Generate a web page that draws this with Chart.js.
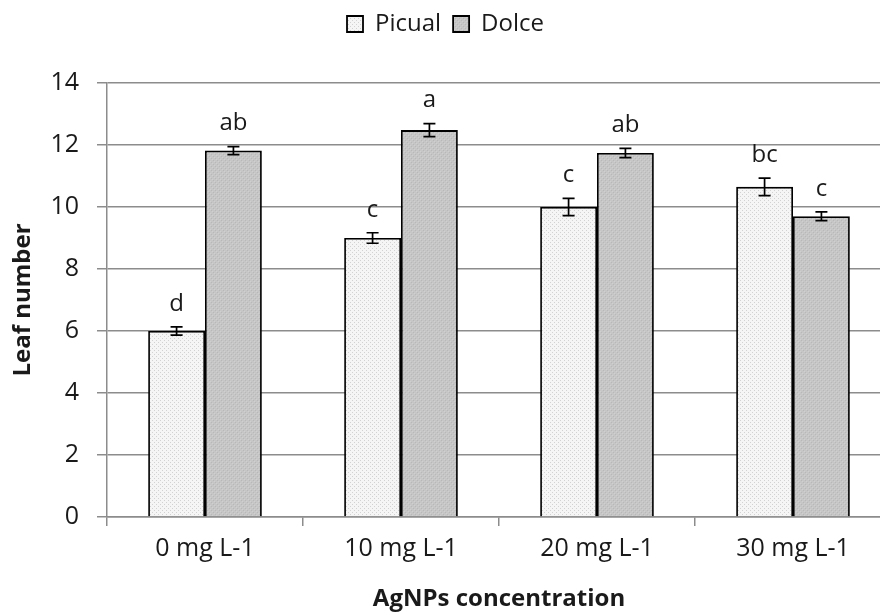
<!DOCTYPE html>
<html>
<head>
<meta charset="utf-8">
<script src="https://cdn.jsdelivr.net/npm/chart.js@4/dist/chart.umd.min.js"></script>
<style>
  html, body { margin: 0; padding: 0; background: #fff; overflow: hidden; }
  #wrap { width: 900px; height: 615px; }
</style>
</head>
<body>
<div id="wrap"><canvas id="barchart" width="900" height="615"></canvas></div>
<script>
const categories = ['0 mg L-1', '10 mg L-1', '20 mg L-1', '30 mg L-1']
const picual = [6.0, 9.0, 10.0, 10.65]
const dolce = [11.82, 12.48, 11.74, 9.7]
const picualErr = [0.13, 0.17, 0.28, 0.28]
const dolceErr = [0.13, 0.21, 0.15, 0.14]
const picualLetters = ['d', 'c', 'c', 'bc']
const dolceLetters = ['ab', 'a', 'ab', 'c']
const yTicks = [0, 2, 4, 6, 8, 10, 12, 14]

const FONT = '"Open Sans", "DejaVu Sans", sans-serif'

// small fill textures like the office chart
const tmp = document.createElement('canvas').getContext('2d')
const picualFill = (function(){
    const c = document.createElement('canvas')
    c.width = 4; c.height = 4
    const g = c.getContext('2d')
    g.fillStyle = '#f5f5f5'; g.fillRect(0, 0, 4, 4)
    g.fillStyle = '#d2d2d2'; g.fillRect(0, 0, 1, 1); g.fillRect(2, 2, 1, 1)
    return tmp.createPattern(c, 'repeat')
})()
const dolceFill = (function(){
    const c = document.createElement('canvas')
    c.width = 4; c.height = 4
    const g = c.getContext('2d')
    g.fillStyle = '#c6c6c6'; g.fillRect(0, 0, 4, 4)
    g.fillStyle = '#b8b8b8'; g.fillRect(1, 0, 1, 1); g.fillRect(3, 2, 1, 1)
    g.fillStyle = '#d0d0d0'; g.fillRect(0, 3, 1, 1); g.fillRect(2, 1, 1, 1)
    return tmp.createPattern(c, 'repeat')
})()

const errors = [picualErr, dolceErr]
const letters = [picualLetters, dolceLetters]

// keep the plot top at the same place as the original
const legendSpace = {
    id: 'legendSpace',
    beforeLayout(chart) {
        const lg = chart.legend
        if (lg && !lg._patched) {
            const fit = lg.fit
            lg.fit = function() {
                fit.call(this)
                this.height = 83
            }
            lg._patched = true
        }
    }
}

const errorBars = {
    id: 'errorBars',
    afterDatasetsDraw(chart) {
        const ctx = chart.ctx
        const y = chart.scales.y
        ctx.save()
        chart.data.datasets.forEach((ds, di) => {
            const meta = chart.getDatasetMeta(di)
            meta.data.forEach((bar, i) => {
                const v = ds.data[i]
                const e = errors[di][i]
                const top = y.getPixelForValue(v + e)
                const bot = y.getPixelForValue(v - e)
                ctx.strokeStyle = '#000'
                ctx.lineWidth = 1.7
                ctx.beginPath()
                ctx.moveTo(bar.x, top); ctx.lineTo(bar.x, bot)
                ctx.moveTo(bar.x - 6, top); ctx.lineTo(bar.x + 6, top)
                ctx.moveTo(bar.x - 6, bot); ctx.lineTo(bar.x + 6, bot)
                ctx.stroke()
                ctx.fillStyle = '#1a1a1a'
                ctx.font = '24px ' + FONT
                ctx.textAlign = 'center'
                ctx.textBaseline = 'middle'
                ctx.fillText(letters[di][i], bar.x, top - 23)
            })
        })
        ctx.restore()
    }
}

const ctx = document.getElementById('barchart')

new Chart(ctx, {
  type: 'bar',
  data: {
    labels: categories,
    datasets: [{
      label: 'Picual',
      data: picual,
      backgroundColor: picualFill,
      borderColor: '#000',
      borderWidth: 1.8,
      borderSkipped: 'bottom'
    }, {
      label: 'Dolce',
      data: dolce,
      backgroundColor: dolceFill,
      borderColor: '#000',
      borderWidth: 1.8,
      borderSkipped: 'bottom'
    }]
  },
  options: {
    responsive: false,
    animation: false,
    devicePixelRatio: 1,
    layout: { padding: { top: 0, right: 9, left: 0, bottom: 0 } },
    datasets: { bar: { categoryPercentage: 0.58, barPercentage: 1 } },
    plugins: {
      legend: {
        position: 'top',
        labels: {
          font: { family: FONT, size: 24 },
          color: '#1a1a1a',
          boxWidth: 16,
          boxHeight: 16,
          padding: 12
        }
      },
      tooltip: { enabled: false }
    },
    scales: {
      x: {
        grid: {
          offset: true,
          drawOnChartArea: false,
          color: '#8c8c8c',
          lineWidth: 1.5,
          tickLength: 9
        },
        border: { color: '#8c8c8c', width: 1.5 },
        ticks: {
          font: { family: FONT, size: 25 },
          color: '#1a1a1a',
          padding: 8
        },
        title: {
          display: true,
          text: 'AgNPs concentration',
          font: { family: FONT, size: 24, weight: 'bold' },
          color: '#1a1a1a',
          padding: { top: 4, bottom: 1 }
        },
        afterFit(s) { s.height = 98 }
      },
      y: {
        min: 0,
        max: 14,
        afterBuildTicks(s) { s.ticks = yTicks.map(v => ({ value: v })) },
        grid: {
          color: '#8c8c8c',
          lineWidth: 1.5,
          tickLength: 10
        },
        border: { color: '#8c8c8c', width: 1.5 },
        ticks: {
          font: { family: FONT, size: 25 },
          color: '#1a1a1a',
          padding: 18
        },
        title: {
          display: true,
          text: 'Leaf number',
          font: { family: FONT, size: 24, weight: 'bold' },
          color: '#1a1a1a',
          padding: { top: 9, bottom: 4 }
        },
        afterFit(s) { s.width = 107 }
      }
    }
  },
  plugins: [legendSpace, errorBars]
});
</script>
</body>
</html>
